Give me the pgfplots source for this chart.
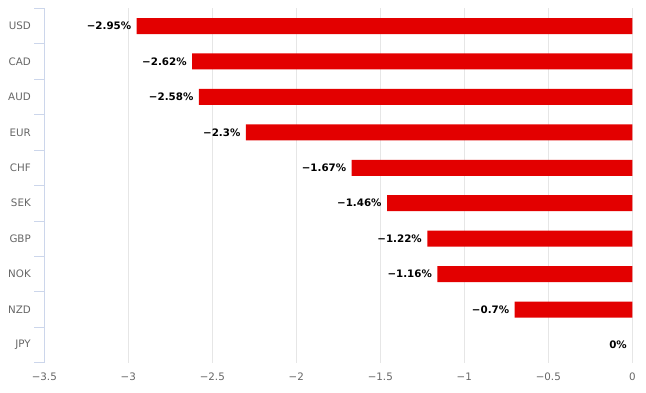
\documentclass[border=0pt]{standalone}
\usepackage{fontspec}
\setmainfont{DejaVu Sans}
\usepackage{pgfplots}
\pgfplotsset{compat=1.18}
\definecolor{barred}{HTML}{E30000}
\definecolor{axiscol}{HTML}{CCD6EB}
\definecolor{gridcol}{HTML}{E6E6E6}
\definecolor{labcol}{HTML}{666666}
\begin{document}
\begin{tikzpicture}[x=1pt,y=1pt]
\useasboundingbox (0,0) rectangle (646,393);
\begin{axis}[
  at={(44.3pt,30.3pt)}, anchor=south west,
  scale only axis, width=588pt, height=354.4pt,
  xbar, bar width=16pt, bar shift=0pt,
  xmin=-3.5, xmax=0, ymin=-0.5, ymax=9.5,
  xtick={-3.5,-3,-2.5,-2,-1.5,-1,-0.5,0},
  xticklabels={−3.5,−3,−2.5,−2,−1.5,−1,−0.5,0},
  ytick={0,...,9},
  yticklabels={JPY,NZD,NOK,GBP,SEK,CHF,EUR,AUD,CAD,USD},
  minor ytick={-0.5,0.5,...,9.5},
  major tick length=0pt, minor tick length=10pt, tick align=outside,
  tick pos=left,
  y tick style={draw=axiscol, line width=0.8pt},
  xmajorgrids, grid style={draw=gridcol, line width=0.8pt},
  separate axis lines,
  axis x line*=bottom, axis y line*=left,
  x axis line style={draw=none},
  y axis line style={draw=axiscol, line width=0.8pt, -},
  ticklabel style={font=\fontsize{10.3}{12}\selectfont, text=labcol},
  yticklabel style={xshift=-10pt},
  xticklabel style={yshift=-7pt},
  point meta=explicit symbolic,
  nodes near coords={\pgfplotspointmeta\%},
  every node near coord/.style={anchor=east, xshift=-2pt, font=\fontsize{10.3}{12}\selectfont\bfseries, text=black},
  clip=false,
]
\addplot[fill=barred, draw=none] table[meta=lab] {
x y lab
-2.95 9 −2.95
-2.62 8 −2.62
-2.58 7 −2.58
-2.3 6 −2.3
-1.67 5 −1.67
-1.46 4 −1.46
-1.22 3 −1.22
-1.16 2 −1.16
-0.7 1 −0.7
};
\addplot[fill=none, draw=none] table[meta=lab] {
x y lab
0 0 0
};
\end{axis}
\end{tikzpicture}
\end{document}
